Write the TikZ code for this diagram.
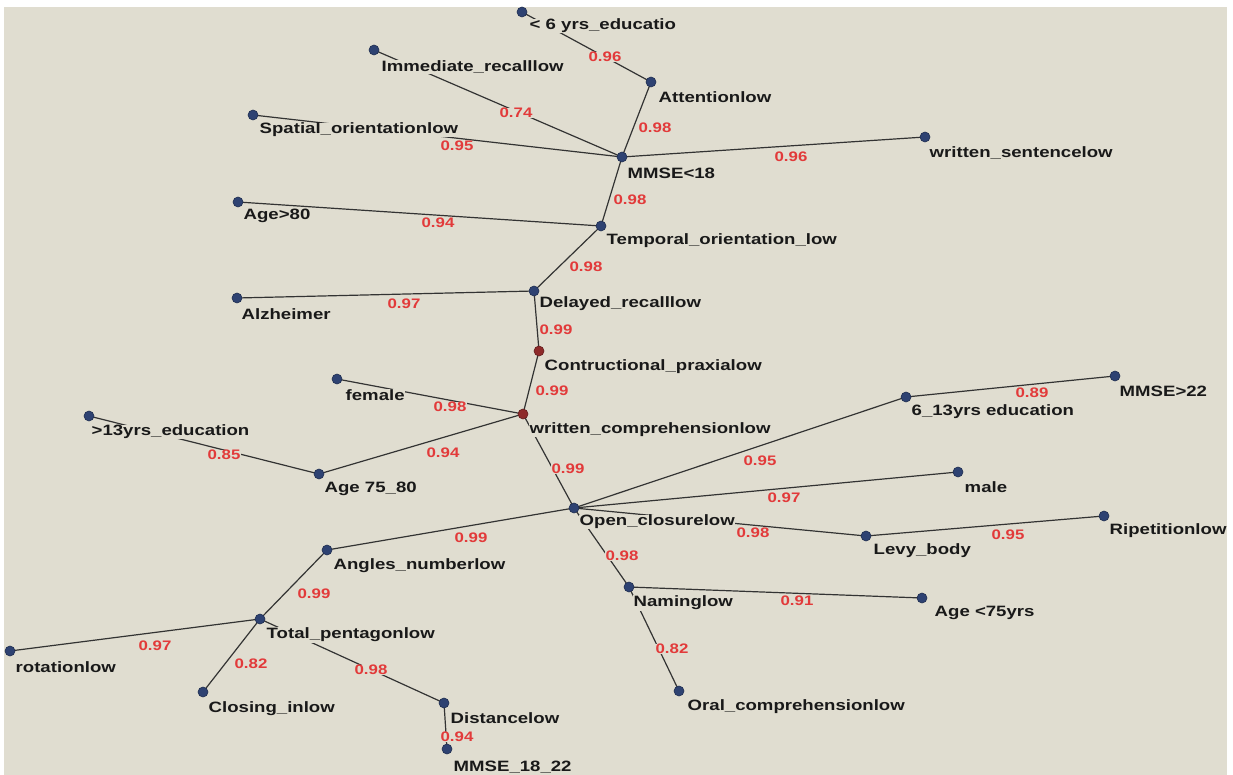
\documentclass[tikz,border=0pt]{standalone}
\usepackage{fontspec}
\setmainfont{Liberation Sans}
\newfontfamily\lblfont{Liberation Sans}[FakeStretch=1.24]
\newfontfamily\wfont{Liberation Sans}[FakeStretch=1.22]
\pgfdeclarelayer{bg}
\pgfsetlayers{bg,main}
\definecolor{paper}{HTML}{E0DDD0}
\definecolor{dotblue}{HTML}{2E4272}
\definecolor{dotred}{HTML}{8E2A2A}
\definecolor{wred}{HTML}{E23A3A}
\definecolor{edgec}{HTML}{333333}
\begin{document}
\begin{tikzpicture}[x=1pt,y=-1pt,
 dot/.style={circle,fill=dotblue,draw=dotblue!70!black,line width=0.6pt,minimum size=10pt,inner sep=0pt},
 rdot/.style={dot,fill=dotred,draw=dotred!70!black},
 lbl/.style={anchor=west,inner sep=0.5pt,fill=paper,text=black!90,font=\lblfont\bfseries\fontsize{15}{15}\selectfont},
 wt/.style={inner sep=0.5pt,fill=paper,text=wred,font=\wfont\bfseries\fontsize{13.8}{14}\selectfont},
 link/.style={draw=edgec,line width=1.2pt}]
% dots
\node[dot] (lt6) at (522,12) {};
\node[dot] (imm) at (374,50) {};
\node[dot] (att) at (651,82) {};
\node[dot] (spa) at (253,115) {};
\node[dot] (m18) at (622,157) {};
\node[dot] (wse) at (925,137) {};
\node[dot] (a80) at (238,202) {};
\node[dot] (tem) at (601,226) {};
\node[dot] (alz) at (237,298) {};
\node[dot] (del) at (534,291) {};
\node[rdot] (con) at (539,351) {};
\node[dot] (fem) at (337,379) {};
\node[dot] (g13) at (89,416) {};
\node[rdot] (wco) at (523,414) {};
\node[dot] (a78) at (319,474) {};
\node[dot] (s13) at (906,397) {};
\node[dot] (m22) at (1115,376) {};
\node[dot] (mal) at (958,472) {};
\node[dot] (ope) at (574,508) {};
\node[dot] (ang) at (327,550) {};
\node[dot] (lev) at (866,536) {};
\node[dot] (rip) at (1104,516) {};
\node[dot] (nam) at (629,587) {};
\node[dot] (a75) at (922,598) {};
\node[dot] (tot) at (260,619) {};
\node[dot] (rot) at (10,651) {};
\node[dot] (clo) at (203,692) {};
\node[dot] (ora) at (679,691) {};
\node[dot] (dis) at (444,703) {};
\node[dot] (m1822) at (447,749) {};
% background and connectors
\begin{pgfonlayer}{bg}
\fill[white] (0,0) rectangle (1233,775);
\fill[paper] (4,7) rectangle (1227,775);
\draw[link] (lt6.center) -- (att.center);
\draw[link] (imm.center) -- (m18.center);
\draw[link] (att.center) -- (m18.center);
\draw[link] (spa.center) -- (m18.center);
\draw[link] (m18.center) -- (wse.center);
\draw[link] (m18.center) -- (tem.center);
\draw[link] (a80.center) -- (tem.center);
\draw[link] (tem.center) -- (del.center);
\draw[link] (alz.center) -- (del.center);
\draw[link] (del.center) -- (con.center);
\draw[link] (con.center) -- (wco.center);
\draw[link] (fem.center) -- (wco.center);
\draw[link] (g13.center) -- (a78.center);
\draw[link] (a78.center) -- (wco.center);
\draw[link] (wco.center) -- (ope.center);
\draw[link] (ope.center) -- (s13.center);
\draw[link] (s13.center) -- (m22.center);
\draw[link] (ope.center) -- (mal.center);
\draw[link] (ope.center) -- (ang.center);
\draw[link] (ope.center) -- (lev.center);
\draw[link] (lev.center) -- (rip.center);
\draw[link] (ope.center) -- (nam.center);
\draw[link] (nam.center) -- (a75.center);
\draw[link] (nam.center) -- (ora.center);
\draw[link] (ang.center) -- (tot.center);
\draw[link] (rot.center) -- (tot.center);
\draw[link] (tot.center) -- (clo.center);
\draw[link] (tot.center) -- (dis.center);
\draw[link] (dis.center) -- (m1822.center);
\end{pgfonlayer}
% weights
\node[wt] (w1) at (605,57) {0.96};
\node[wt] (w2) at (516,113) {0.74};
\node[wt] (w3) at (655,128) {0.98};
\node[wt] (w4) at (457,146) {0.95};
\node[wt] (w5) at (791,157) {0.96};
\node[wt] (w6) at (630,200) {0.98};
\node[wt] (w7) at (438,223) {0.94};
\node[wt] (w8) at (586,267) {0.98};
\node[wt] (w9) at (404,304) {0.97};
\node[wt] (w10) at (556,330) {0.99};
\node[wt] (w11) at (552,391) {0.99};
\node[wt] (w12) at (450,407) {0.98};
\node[wt] (w13) at (224,455) {0.85};
\node[wt] (w14) at (443,453) {0.94};
\node[wt] (w15) at (568,469) {0.99};
\node[wt] (w16) at (760,461) {0.95};
\node[wt] (w17) at (1032,393) {0.89};
\node[wt] (w18) at (784,498) {0.97};
\node[wt] (w19) at (471,538) {0.99};
\node[wt] (w20) at (753,533) {0.98};
\node[wt] (w21) at (1008,535) {0.95};
\node[wt] (w22) at (622,556) {0.98};
\node[wt] (w23) at (797,601) {0.91};
\node[wt] (w24) at (672,649) {0.82};
\node[wt] (w25) at (314,594) {0.99};
\node[wt] (w26) at (155,646) {0.97};
\node[wt] (w27) at (251,664) {0.82};
\node[wt] (w28) at (371,670) {0.98};
\node[wt] (w29) at (457,737) {0.94};
% node labels
\node[lbl] (t1) at (529,26) {< 6 yrs\_educatio};
\node[lbl] (t2) at (381,67) {Immediate\_recalllow};
\node[lbl] (t3) at (658,97) {Attentionlow};
\node[lbl] (t4) at (259,130) {Spatial\_orientationlow};
\node[lbl] (t5) at (627,173) {MMSE<18};
\node[lbl] (t6) at (929,153) {written\_sentencelow};
\node[lbl] (t7) at (243,216) {Age>80};
\node[lbl] (t8) at (606,241) {Temporal\_orientation\_low};
\node[lbl] (t9) at (241,314) {Alzheimer};
\node[lbl] (t10) at (539,304) {Delayed\_recalllow};
\node[lbl] (t11) at (544,367) {Contructional\_praxialow};
\node[lbl] (t12) at (345,395) {female};
\node[lbl] (t13) at (91,432) {>13yrs\_education};
\node[lbl] (t14) at (529,430) {written\_comprehensionlow};
\node[lbl] (t15) at (324,489) {Age 75\_80};
\node[lbl] (t16) at (911,412) {6\_13yrs education};
\node[lbl] (t17) at (1119,391) {MMSE>22};
\node[lbl] (t18) at (964,487) {male};
\node[lbl] (t19) at (579,522) {Open\_closurelow};
\node[lbl] (t20) at (333,566) {Angles\_numberlow};
\node[lbl] (t21) at (873,551) {Levy\_body};
\node[lbl] (t22) at (1109,531) {Ripetitionlow};
\node[lbl] (t23) at (633,603) {Naminglow};
\node[lbl] (t24) at (934,613) {Age <75yrs};
\node[lbl] (t25) at (266,635) {Total\_pentagonlow};
\node[lbl] (t26) at (15,667) {rotationlow};
\node[lbl] (t27) at (208,709) {Closing\_inlow};
\node[lbl] (t28) at (687,707) {Oral\_comprehensionlow};
\node[lbl] (t29) at (450,718) {Distancelow};
\node[lbl] (t30) at (453,767) {MMSE\_18\_22};
\end{tikzpicture}
\end{document}
